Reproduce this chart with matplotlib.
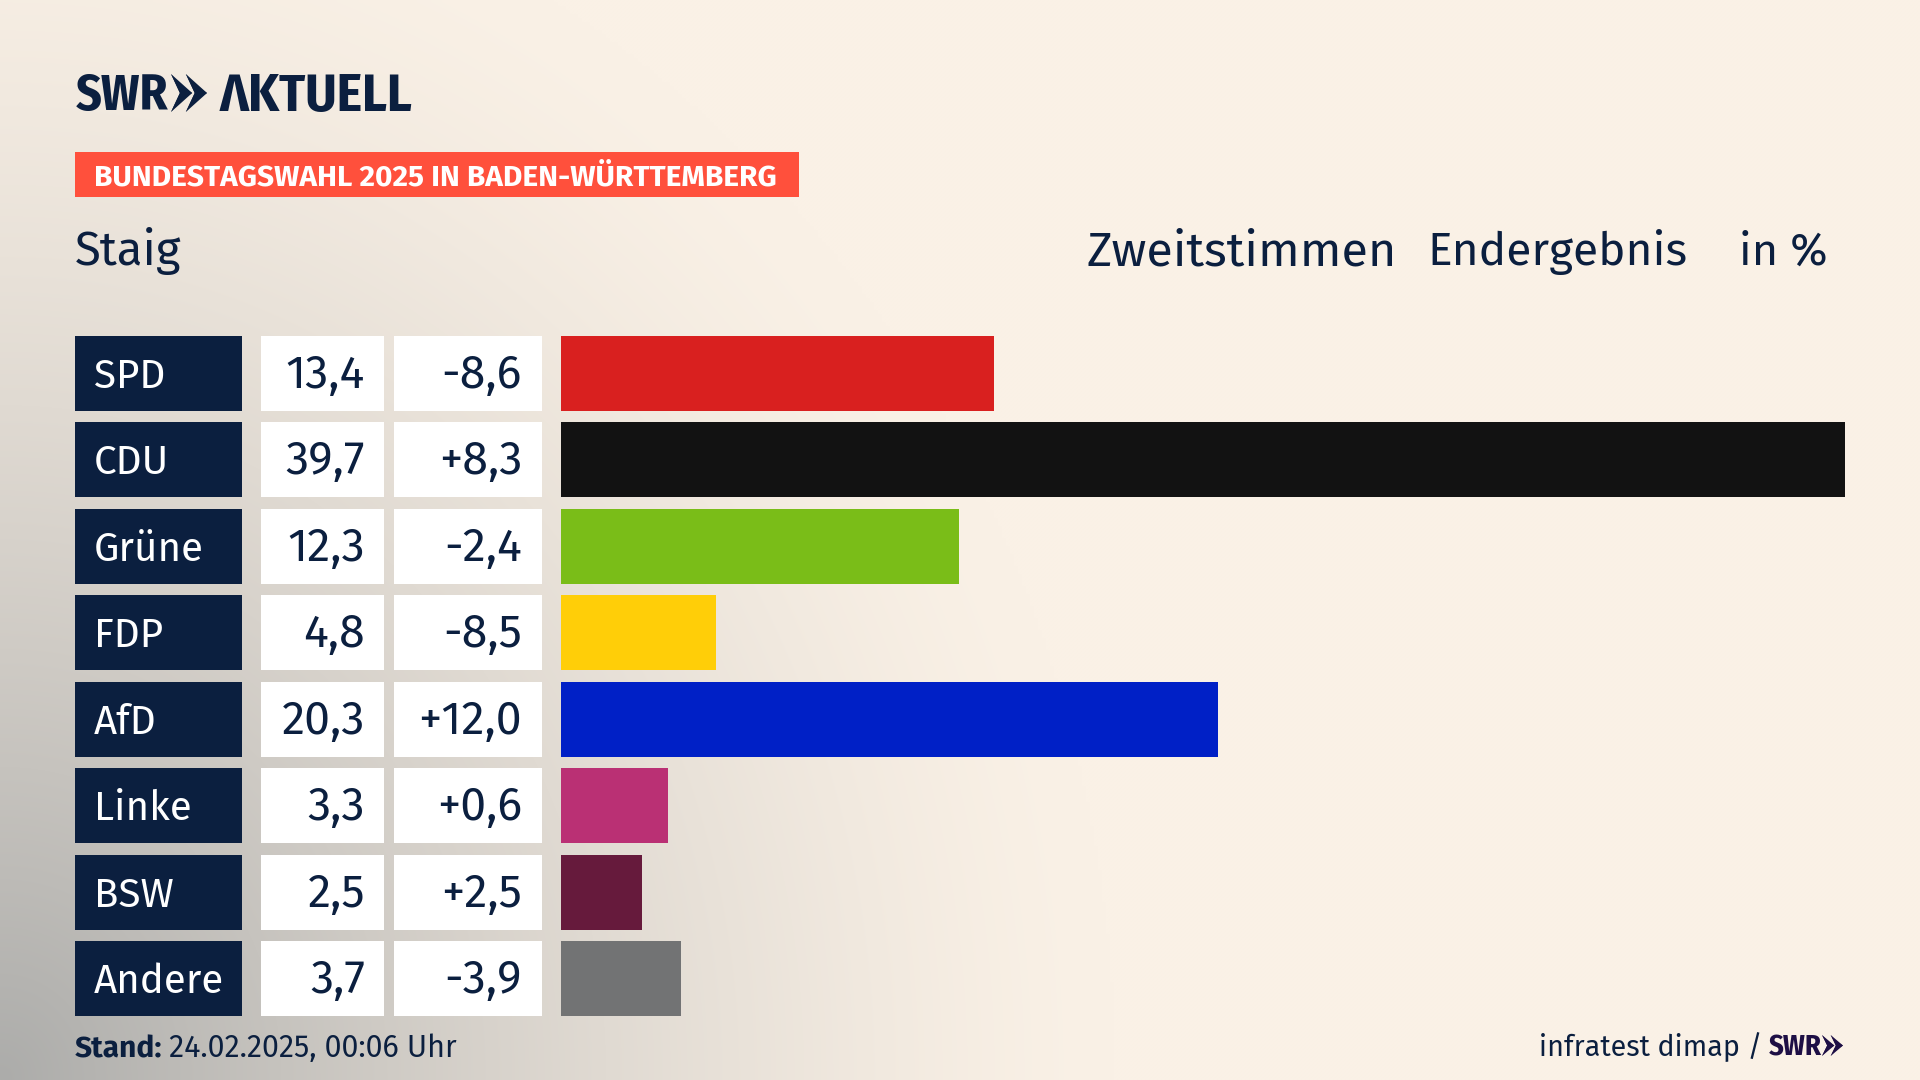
import numpy as np
import matplotlib
matplotlib.use('Agg')
import matplotlib.pyplot as plt
from matplotlib.patches import Rectangle, Polygon

# data
parties = ['SPD', 'CDU', 'Grüne', 'FDP', 'AfD', 'Linke', 'BSW', 'Andere']
results = [13.4, 39.7, 12.3, 4.8, 20.3, 3.3, 2.5, 3.7]
changes = [-8.6, 8.3, -2.4, -8.5, 12.0, 0.6, 2.5, -3.9]
colors = ['#d9201f', '#121212', '#7abd18', '#ffce08', '#0020c6', '#ba3074', '#661a3c', '#727374']

NAVY = '#0b1f3f'
FONT = ['Fira Sans', 'Lato']
NARROW = ['Fira Sans Condensed', 'Lato']

W, H = 1920, 1080
ROW_TOP, ROW_H, PITCH = 336, 75, (941 - 336) / 7

fig = plt.figure(figsize=(19.2, 10.8), dpi=100)

# page in pixel coordinates, y going down
bg = fig.add_axes([0, 0, 1, 1])
bg.set_xlim(0, W)
bg.set_ylim(H, 0)
bg.axis('off')

# cream page, grey haze coming out of the lower left corner
xx, yy = np.meshgrid(np.linspace(0, 1, 480), np.linspace(0, 1, 270))
d = np.sqrt((xx / 0.58) ** 2 + ((1 - yy) / 1.15) ** 2)
shade = np.clip(1 - d, 0, 1) ** 1.4
cream = np.array([250, 241, 230]) / 255
grey = np.array([172, 172, 170]) / 255
img = cream + (grey - cream) * shade[..., None] / max(shade.max(), 1e-6)
bg.imshow(img, extent=(0, W, H, 0), aspect='auto', interpolation='bilinear', zorder=0)


def chevrons(ax, x0, y0, x1, y1, color):
    # two arrow heads, the second tucked in behind the first
    c = (x1 - x0) / 1.7
    ym = (y0 + y1) / 2
    for k in range(2):
        x = x0 + k * 0.7 * c
        ax.add_patch(Polygon([(x, y0), (x + c * 0.45, ym - (y1 - y0) * 0.2), (x + c, ym),
                              (x + c * 0.45, ym + (y1 - y0) * 0.2), (x, y1), (x + c * 0.42, ym)],
                             color=color, lw=0, zorder=3))
        ax.add_patch(Polygon([(x, y0), (x + c, ym), (x, y1), (x + c * 0.42, ym)],
                             color=color, lw=0, zorder=3))


# header
bg.text(76, 110, 'SWR', family=NARROW, weight='bold', fontsize=36, color=NAVY, va='baseline')
chevrons(bg, 171, 74, 207, 112, NAVY)
bg.text(220, 110.5, 'ΛKTUELL', family=NARROW, weight='bold', fontsize=38.5, color=NAVY, va='baseline')

bg.add_patch(Rectangle((75, 152), 724, 45, color='#ff503c', lw=0, zorder=2))
bg.text(94, 185, 'BUNDESTAGSWAHL 2025 IN BADEN-WÜRTTEMBERG', family=FONT, weight='bold',
        fontsize=21.5, color='white', va='baseline', zorder=3)

bg.text(75, 265, 'Staig', family=FONT, fontsize=34, color=NAVY, va='baseline')
bg.text(1087, 265, 'Zweitstimmen', family=FONT, fontsize=35, color=NAVY, va='baseline')
bg.text(1427, 265, 'Endergebnis', family=FONT, fontsize=33.2, color=NAVY, va='baseline')
bg.text(1739, 265, 'in %', family=FONT, fontsize=32.5, color=NAVY, va='baseline')

# table cells left of the bars
for i, party in enumerate(parties):
    top = ROW_TOP + i * PITCH
    base = top + 52
    bg.add_patch(Rectangle((75, top), 167, ROW_H, color=NAVY, lw=0, zorder=2))
    bg.add_patch(Rectangle((261, top), 123, ROW_H, color='white', lw=0, zorder=2))
    bg.add_patch(Rectangle((394, top), 148, ROW_H, color='white', lw=0, zorder=2))
    bg.text(94, base, party, family=FONT, fontsize=29, color='white', va='baseline', zorder=3)
    bg.text(365, base, f'{results[i]:.1f}'.replace('.', ','), family=FONT, fontsize=33.5,
            color=NAVY, ha='right', va='baseline', zorder=3)
    bg.text(522, base, f'{changes[i]:+.1f}'.replace('.', ','), family=FONT, fontsize=33.5,
            color=NAVY, ha='right', va='baseline', zorder=3)

# bars
gap = (PITCH - ROW_H) / 2
ax = fig.add_axes([561 / W, 1 - (ROW_TOP + 8 * PITCH - gap) / H,
                   (1845 - 561) / W, 8 * PITCH / H])
ax.patch.set_alpha(0)
ax.barh(range(len(parties)), results, height=ROW_H / PITCH, color=colors)
ax.set_xlim(0, max(results))
ax.set_ylim(len(parties) - 0.5, -0.5)
ax.axis('off')

# footer
bg.text(75, 1057, 'Stand:', family=FONT, weight='bold', fontsize=21.5, color=NAVY, va='baseline')
bg.text(169, 1057, '24.02.2025, 00:06 Uhr', family=FONT, fontsize=22, color=NAVY, va='baseline')
bg.text(1539, 1056, 'infratest dimap /', family=FONT, fontsize=20.6, color=NAVY, va='baseline')
bg.text(1769, 1056, 'SWR', family=NARROW, weight='bold', fontsize=20.5, color='#1e0f45', va='baseline')
chevrons(bg, 1822, 1035, 1843, 1056, '#1e0f45')

fig.savefig('out.png', dpi=100)
